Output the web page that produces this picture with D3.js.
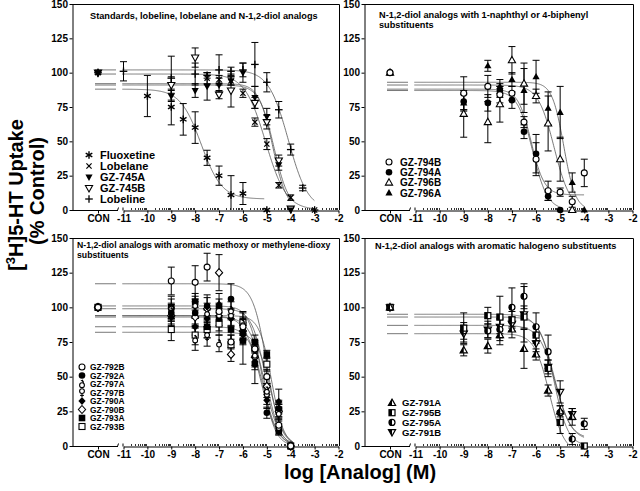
<!DOCTYPE html>
<html><head><meta charset="utf-8">
<script src="https://cdn.jsdelivr.net/npm/d3@7"></script>
<style>
body{margin:0;background:#fff}
svg{display:block}
text{font-family:"Liberation Sans",Arial,sans-serif;font-weight:bold;fill:#000}
</style>
</head><body><svg id="c" width="640" height="491"></svg>
<script>
// ---------- DATA ----------
const logTicks = [-11,-10,-9,-8,-7,-6,-5,-4,-3,-2];
const yTicks = [0,25,50,75,100,125,150];
const conLabel = "CON";
const controlValue = 100;
const xTitle = "log [Analog] (M)";

// Panel A: standards
const titleA = ["Standards, lobeline, lobelane and N-1,2-diol analogs"];
const concA = [-11,-10,-9,-8.5,-8,-7.5,-7,-6.5,-6,-5.5,-5,-4.5,-4,-3.5,-3];
const namesA = ["Fluoxetine","Lobelane","GZ-745A","GZ-745B","Lobeline"];
const symbolsA = ["asterisk","cross","triDownFilled","triDownOpen","plus"];
const meanA = [
  [null,83,75,66,60,38,25,11,12,null,0,null,null,null,null],
  [null,null,null,null,null,96,95,94,85,64,48,18,9,null,0],
  [null,null,83,null,87,90,91,94,100,82,68,33,0,null,null],
  [null,null,91,null,111,null,84,87,null,78,64,36,1,null,null],
  [101,null,96,null,99,98,102,101,102,106,93,73,44,16,0]
];
const errA = [
  [0,15,13,11.5,11.5,5.5,7,14,8,0,0,0,0,0,0],
  [0,0,0,0,0,4,3,3,3,3,4,2,2,0,0],
  [0,0,4,0,5,10,5,3,7,8,6,4,0,0,0],
  [0,0,6,0,7,0,3,12,0,4,5,4,1,0,0],
  [7,0,16,0,8,2,11,3,5,16,7,6,4,2,0]
];
const topA = [88,99,92,91,102];
const bottomA = [8,0,0,0,0];
const ic50A = [-7.75,-5.05,-4.75,-4.7,-4.1];
const hillA = [1.0,1.0,1.5,1.4,1.05];
const endA = [-5.1,-3,-4,-4,-3];

// Panel B: 1-naphthyl / 4-biphenyl
const titleB = ["N-1,2-diol analogs with 1-naphthyl or 4-biphenyl","substituents"];
const concB = [-9,-8,-7.5,-7,-6.5,-6,-5.5,-5,-4.5,-4];
const namesB = ["GZ-794B","GZ-794A","GZ-796B","GZ-796A"];
const symbolsB = ["circleOpen","circleFilled","triUpOpen","triUpFilled"];
const meanB = [
  [85,90,84,85,64,37,14,13,6,27],
  [79,78,87,80,57,41,10,0,null,null],
  [70,64,77,109,92,83,63,37,0,null],
  [78,105,90,95,87,97,74,71,20,0]
];
const errB = [
  [12,8,6,5,4,12,7,3,4,10],
  [6,6,5,6,5,14,3,0,0,0],
  [17,15,13,10,15,5,20,16,0,0],
  [6,4,5,5,16,12,12,19,7,0]
];
const topB = [88,87,91,93];
const bottomB = [11,0,0,0];
const ic50B = [-6.2,-6.15,-5.25,-4.85];
const hillB = [1.6,1.4,1.3,1.8];
const endB = [-4,-5,-4.5,-4];

// Panel C: methoxy / methylene-dioxy
const titleC = ["N-1,2-diol analogs with aromatic methoxy or methylene-dioxy","substituents"];
const concC = [-9,-8,-7.5,-7,-6.5,-6,-5.5,-5,-4.5,-4];
const namesC = ["GZ-792B","GZ-792A","GZ-797A","GZ-797B","GZ-790A","GZ-790B","GZ-793A","GZ-793B"];
const symbolsC = ["circleOpen","circleFilled","male","female","diamondFilled","diamondOpen","squareFilled","squareOpen"];
const meanC = [
  [119,118,129,97,75,86,70,50,15,0],
  [96,96,101,100,106,82,59,24,27,0],
  [97,77,96,74,98,88,66,40,24,0],
  [98,100,79,93,93,84,63,36,12,0],
  [93,86,92,102,92,80,61,33,32,0],
  [94,93,99,125,66,83,64,43,25,0],
  [100,104,86,92,84,76,75,66,11,0],
  [84,80,84,88,73,89,70,59,26,0]
];
const errC = [
  [10,12,10,6,5,6,5,5,4,0],
  [6,8,8,6,11,6,14,4,6,0],
  [6,8,7,6,6,8,6,5,6,0],
  [8,8,7,6,6,7,6,6,4,0],
  [6,6,6,8,6,7,6,6,9,0],
  [6,7,8,13,5,6,6,6,5,0],
  [8,6,8,9,7,17,5,3,3,0],
  [8,7,6,8,7,8,6,5,5,0]
];
const topC = [117,94,86,101,93,99,94,82];
const bottomC = [0,0,0,0,0,0,0,0];
const ic50C = [-5.0,-5.25,-5.15,-5.2,-5.1,-5.05,-4.8,-4.85];
const hillC = [1.5,1.3,1.4,1.6,1.4,1.5,1.7,1.5];
const endC = [-3.9,-3.9,-3.9,-3.9,-3.9,-3.9,-3.9,-3.9];

// Panel D: halogeno
const titleD = ["N-1,2-diol analogs with aromatic halogeno substituents"];
const concD = [-9,-8,-7.5,-7,-6.5,-6,-5.5,-5,-4.5,-4];
const namesD = ["GZ-791A","GZ-795B","GZ-795A","GZ-791B"];
const symbolsD = ["triUpHalf","squareHalf","circleHalf","triDownHalf"];
const meanD = [
  [69,72,80,84,70,66,40,25,21,null],
  [85,94,93,91,93,80,56,17,null,0],
  [83,83,84,100,108,86,68,24,5,16],
  [81,84,86,88,95,74,57,39,23,null]
];
const errD = [
  [4,5,7,6,14,4,4,4,6,0],
  [11,6,15,6,8,6,6,8,0,0],
  [6,5,8,14,9,10,12,5,4,4],
  [6,6,5,5,20,6,5,8,4,0]
];
const topD = [81,93,87,95];
const bottomD = [-5,0,4,5];
const ic50D = [-5.45,-5.25,-5.2,-5.25];
const hillD = [1.4,1.5,1.3,1.3];
const endD = [-4.6,-4,-4,-4];

// ---------- LAYOUT ----------
const cols = [{x0:72,x1:339},{x0:364,x1:633}];
const rows = [{yT:4,yB:210},{yT:238,yB:446}];

const panels = [
  {col:0,row:0,title:titleA,conc:concA,names:namesA,symbols:symbolsA,mean:meanA,err:errA,top:topA,bottom:bottomA,ic50:ic50A,hill:hillA,end:endA,
   tx:18,ty:15,tfs:9.2,leg:{sx:17,tx:28,y:151,dy:11,fs:11}},
  {col:1,row:0,title:titleB,conc:concB,names:namesB,symbols:symbolsB,mean:meanB,err:errB,top:topB,bottom:bottomB,ic50:ic50B,hill:hillB,end:endB,
   tx:15,ty:14,tfs:9.2,leg:{sx:25,tx:36,y:158,dy:10.3,fs:10}},
  {col:0,row:1,title:titleC,conc:concC,names:namesC,symbols:symbolsC,mean:meanC,err:errC,top:topC,bottom:bottomC,ic50:ic50C,hill:hillC,end:endC,
   tx:5,ty:10,tfs:8.7,leg:{sx:10,tx:18,y:129,dy:8.5,fs:8.4}},
  {col:1,row:1,title:titleD,conc:concD,names:namesD,symbols:symbolsD,mean:meanD,err:errD,top:topD,bottom:bottomD,ic50:ic50D,hill:hillD,end:endD,
   tx:11,ty:11,tfs:9.2,leg:{sx:28,tx:38,y:165,dy:9.7,fs:9.5}}
];

const svg = d3.select('#c');
svg.append('rect').attr('width',640).attr('height',491).attr('fill','#fff');

function logistic(x,top,bottom,ic50,hill){
  return bottom + (top-bottom)/(1+Math.pow(10,hill*(x-ic50)));
}

function drawSymbol(g,type,x,y){
  const k='#000', sw=1.1;
  const tri=(up)=> up ? `M${x},${y-3.9}L${x+3.6},${y+2.5}L${x-3.6},${y+2.5}Z` : `M${x},${y+3.9}L${x+3.6},${y-2.5}L${x-3.6},${y-2.5}Z`;
  const triHalf=(up)=> up ? `M${x},${y-3.9}L${x},${y+2.5}L${x-3.6},${y+2.5}Z` : `M${x},${y+3.9}L${x},${y-2.5}L${x-3.6},${y-2.5}Z`;
  const dia=`M${x},${y-4}L${x+3.6},${y}L${x},${y+4}L${x-3.6},${y}Z`;
  const line=(x1,y1,x2,y2,w)=>g.append('line').attr('x1',x1).attr('y1',y1).attr('x2',x2).attr('y2',y2).attr('stroke',k).attr('stroke-width',w||1.3);
  switch(type){
    case 'circleOpen': g.append('circle').attr('cx',x).attr('cy',y).attr('r',3).attr('fill','#fff').attr('stroke',k).attr('stroke-width',sw); break;
    case 'circleFilled': g.append('circle').attr('cx',x).attr('cy',y).attr('r',3.3).attr('fill',k); break;
    case 'triUpOpen': g.append('path').attr('d',tri(true)).attr('fill','#fff').attr('stroke',k).attr('stroke-width',sw); break;
    case 'triUpFilled': g.append('path').attr('d',tri(true)).attr('fill',k); break;
    case 'triDownOpen': g.append('path').attr('d',tri(false)).attr('fill','#fff').attr('stroke',k).attr('stroke-width',sw); break;
    case 'triDownFilled': g.append('path').attr('d',tri(false)).attr('fill',k); break;
    case 'diamondOpen': g.append('path').attr('d',dia).attr('fill','#fff').attr('stroke',k).attr('stroke-width',sw); break;
    case 'diamondFilled': g.append('path').attr('d',dia).attr('fill',k); break;
    case 'squareOpen': g.append('rect').attr('x',x-3).attr('y',y-3).attr('width',6).attr('height',6).attr('fill','#fff').attr('stroke',k).attr('stroke-width',sw); break;
    case 'squareFilled': g.append('rect').attr('x',x-3.3).attr('y',y-3.3).attr('width',6.6).attr('height',6.6).attr('fill',k); break;
    case 'asterisk':
      line(x,y-3.8,x,y+3.8,1.4); line(x-3.3,y-1.9,x+3.3,y+1.9,1.4); line(x-3.3,y+1.9,x+3.3,y-1.9,1.4); break;
    case 'cross':
      line(x-2.6,y-2.6,x+2.6,y+2.6,1.2); line(x-2.6,y+2.6,x+2.6,y-2.6,1.2); break;
    case 'plus':
      line(x-3.8,y,x+3.8,y,1.3); line(x,y-3.8,x,y+3.8,1.3); break;
    case 'male':
      g.append('circle').attr('cx',x).attr('cy',y+1.2).attr('r',2.4).attr('fill','#fff').attr('stroke',k).attr('stroke-width',1.1);
      line(x+1.6,y-0.6,x+0.2,y-4.2,1.1); line(x-1.2,y-3.6,x+1.6,y-2.6,1.0); break;
    case 'female':
      g.append('circle').attr('cx',x).attr('cy',y-1.4).attr('r',2.4).attr('fill','#fff').attr('stroke',k).attr('stroke-width',1.1);
      line(x,y+1,x,y+4.6,1.1); line(x-1.9,y+2.9,x+1.9,y+2.9,1.1); break;
    case 'triUpHalf':
      g.append('path').attr('d',tri(true)).attr('fill','#fff').attr('stroke',k).attr('stroke-width',1.2);
      g.append('path').attr('d',triHalf(true)).attr('fill',k); break;
    case 'triDownHalf':
      g.append('path').attr('d',tri(false)).attr('fill','#fff').attr('stroke',k).attr('stroke-width',1.2);
      g.append('path').attr('d',triHalf(false)).attr('fill',k); break;
    case 'squareHalf':
      g.append('rect').attr('x',x-3).attr('y',y-3).attr('width',6).attr('height',6).attr('fill','#fff').attr('stroke',k).attr('stroke-width',1.2);
      g.append('rect').attr('x',x-3).attr('y',y-3).attr('width',3).attr('height',6).attr('fill',k); break;
    case 'circleHalf':
      g.append('circle').attr('cx',x).attr('cy',y).attr('r',3).attr('fill','#fff').attr('stroke',k).attr('stroke-width',1.2);
      g.append('path').attr('d',`M${x},${y-3}A3,3 0 0 0 ${x},${y+3}Z`).attr('fill',k); break;
  }
}

function styleAxis(sel,fs){
  sel.attr('font-family','"Liberation Sans",Arial,sans-serif').attr('font-size',fs).attr('font-weight','bold');
  sel.selectAll('line').attr('stroke','#000');
  sel.selectAll('path').attr('stroke','#000');
}

panels.forEach(p=>{
  const c=cols[p.col], r=rows[p.row];
  const g=svg.append('g');
  const ys=d3.scaleLinear().domain([0,150]).range([r.yB,r.yT]);
  const xs=d3.scaleLinear().domain([-11,-2]).range([c.x0+51.5,c.x1-0.5]);
  const conX=c.x0+26, brk=c.x0+46;
  const conScale=d3.scalePoint().domain([conLabel]).range([conX,conX]);

  // frame top & right
  g.append('path').attr('d',`M${c.x0},${r.yT+0.5}H${c.x1+0.5}V${r.yB}`).attr('fill','none').attr('stroke','#000').attr('stroke-width',1);

  // y axis
  const ya=g.append('g').attr('transform',`translate(${c.x0+0.5},0)`)
    .call(d3.axisLeft(ys).tickValues(yTicks).tickSize(3).tickSizeOuter(0).tickPadding(1.5));
  styleAxis(ya,10);

  // x axis: CON segment
  g.append('line').attr('x1',c.x0).attr('x2',brk).attr('y1',r.yB+0.5).attr('y2',r.yB+0.5).attr('stroke','#000');
  g.append('line').attr('x1',brk-0.5).attr('x2',brk+0.5).attr('y1',r.yB+0.5).attr('y2',r.yB-2.5).attr('stroke','#000');
  const ca=g.append('g').attr('transform',`translate(0,${r.yB+0.5})`)
    .call(d3.axisBottom(conScale).tickSize(3).tickSizeOuter(0).tickPadding(1.5));
  ca.select('.domain').remove();
  styleAxis(ca,10);

  // x axis: log segment
  const la=g.append('g').attr('transform',`translate(0,${r.yB+0.5})`)
    .call(d3.axisBottom(xs).tickValues(logTicks).tickSize(3).tickSizeOuter(0).tickPadding(1.5).tickFormat(d=>String(d)));
  styleAxis(la,10);
  g.append('line').attr('x1',xs(-11)-0.5).attr('x2',xs(-11)-0.5).attr('y1',r.yB+0.5).attr('y2',r.yB-2.5).attr('stroke','#000');
  // minor ticks
  const minors=[];
  for(let d=-11; d<-2; d++) for(let m=2;m<=9;m++) minors.push(d+Math.log10(m));
  g.append('g').selectAll('line').data(minors).join('line')
    .attr('x1',d=>Math.round(xs(d))+0.5).attr('x2',d=>Math.round(xs(d))+0.5)
    .attr('y1',r.yB).attr('y2',r.yB-2).attr('stroke','#000').attr('stroke-width',0.8);

  // title
  const t=g.append('text').attr('x',c.x0+p.tx).attr('y',r.yT+p.ty).attr('font-size',p.tfs);
  p.title.forEach((s,i)=>t.append('tspan').attr('x',c.x0+p.tx).attr('dy',i===0?0:10).text(s));

  // curves
  const lineGen=d3.line().x(d=>xs(d[0])).y(d=>ys(d[1]));
  p.names.forEach((n,i)=>{
    const top=p.top[i];
    g.append('line').attr('x1',conX-3).attr('x2',brk-2).attr('y1',ys(top)).attr('y2',ys(top))
      .attr('stroke','#555').attr('stroke-width',0.8);
    const pts=[];
    for(let x=-11.05; x<=p.end[i]+1e-9; x+=0.02){
      const v=logistic(x,top,p.bottom[i],p.ic50[i],p.hill[i]);
      if(v<0) break;
      pts.push([x,v]);
    }
    g.append('path').attr('d',lineGen(pts)).attr('fill','none').attr('stroke','#555').attr('stroke-width',0.8);
  });

  // error bars
  p.names.forEach((n,i)=>{
    p.conc.forEach((x,j)=>{
      const v=p.mean[i][j], e=p.err[i][j];
      if(v==null||!e) return;
      const px=xs(x);
      const lo=Math.max(0,v-e), hi=v+e;
      g.append('line').attr('x1',px).attr('x2',px).attr('y1',ys(lo)).attr('y2',ys(hi)).attr('stroke','#000').attr('stroke-width',1);
      g.append('line').attr('x1',px-3.5).attr('x2',px+3.5).attr('y1',ys(hi)).attr('y2',ys(hi)).attr('stroke','#000').attr('stroke-width',1);
      if(v-e>0) g.append('line').attr('x1',px-3.5).attr('x2',px+3.5).attr('y1',ys(lo)).attr('y2',ys(lo)).attr('stroke','#000').attr('stroke-width',1);
    });
  });

  // markers
  for(let i=p.names.length-1;i>=0;i--){
    const sg=g.append('g');
    drawSymbol(sg,p.symbols[i],conScale(conLabel),ys(controlValue));
    p.conc.forEach((x,j)=>{
      const v=p.mean[i][j];
      if(v==null) return;
      drawSymbol(sg,p.symbols[i],xs(x),ys(v));
    });
  }

  // legend
  const L=p.leg;
  p.names.forEach((n,i)=>{
    const yy=r.yT+L.y+i*L.dy;
    drawSymbol(g,p.symbols[i],c.x0+L.sx,yy);
    g.append('text').attr('x',c.x0+L.tx).attr('y',yy+L.fs*0.36).attr('font-size',L.fs).text(n);
  });
});

// axis titles
const yl1=svg.append('text').attr('transform','translate(23,195) rotate(-90)').attr('text-anchor','middle').attr('font-size',20);
yl1.append('tspan').text('[');
yl1.append('tspan').attr('dy',-8).attr('font-size',13).text('3');
yl1.append('tspan').attr('dy',8).text('H]5-HT Uptake');
svg.append('text').attr('transform','translate(44,191) rotate(-90)').attr('text-anchor','middle').attr('font-size',20).text('(% Control)');
svg.append('text').attr('x',360).attr('y',479).attr('text-anchor','middle').attr('font-size',20).text(xTitle);
</script>
</body></html>
